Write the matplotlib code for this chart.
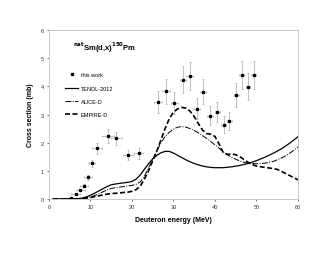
import matplotlib
matplotlib.use('Agg')
import matplotlib.pyplot as plt

# measured points (this work)
exp_e = [5.3, 6.5, 7.6, 8.5, 9.5, 10.3, 11.7, 14.2, 16.2, 19.1, 21.6,
         26.3, 28.2, 30.2, 32.3, 33.9, 35.7, 37.2, 38.9, 40.6, 42.1, 43.5,
         45.1, 46.4, 47.9, 49.3]
exp_xs = [0.04, 0.17, 0.31, 0.47, 0.77, 1.27, 1.80, 2.25, 2.15, 1.55, 1.62,
          3.44, 3.82, 3.42, 4.24, 4.36, 3.21, 3.81, 2.95, 3.10, 2.63, 2.76,
          3.68, 4.39, 3.99, 4.41]
exp_de = [1.2, 1.1, 1.1, 1.0, 1.0, 0.9, 1.2, 1.4, 1.3, 1.2, 1.1,
          0.9, 0.9, 0.8, 0.8, 0.8, 0.7, 0.7, 0.7, 0.6, 0.6, 0.6,
          0.6, 0.6, 0.5, 0.5]
exp_dxs = [0.02, 0.03, 0.04, 0.05, 0.08, 0.13, 0.2, 0.25, 0.24, 0.18, 0.19,
           0.4, 0.44, 0.39, 0.48, 0.5, 0.37, 0.44, 0.34, 0.36, 0.3, 0.32,
           0.43, 0.5, 0.47, 0.5]

# TENDL-2012
tendl_e = [1, 5, 7, 8, 9, 10, 11, 12, 13, 14, 15, 16, 17, 18, 19, 20, 21, 22,
           23, 24, 25, 26, 27, 28, 29, 30, 31, 32, 33, 34, 35, 36, 37, 38, 39,
           40, 42, 44, 46, 48, 50, 52, 54, 56, 58, 60]
tendl_xs = [0, 0, 0.01, 0.03, 0.07, 0.13, 0.2, 0.28, 0.36, 0.44, 0.5, 0.53,
            0.55, 0.57, 0.59, 0.62, 0.7, 0.85, 1.05, 1.25, 1.42, 1.55, 1.64,
            1.69, 1.69, 1.63, 1.55, 1.47, 1.39, 1.32, 1.26, 1.21, 1.17, 1.14,
            1.12, 1.11, 1.11, 1.14, 1.19, 1.26, 1.36, 1.48, 1.62, 1.78, 1.98,
            2.21]

# ALICE-D
alice_e = [1, 6, 8, 9, 10, 11, 12, 13, 14, 15, 16, 17, 18, 19, 20, 21, 22, 23,
           24, 25, 26, 27, 28, 29, 30, 31, 32, 33, 34, 35, 36, 37, 38, 39, 40,
           41, 42, 43, 44, 45, 46, 47, 48, 50, 52, 54, 56, 58, 60]
alice_xs = [0, 0, 0.01, 0.03, 0.07, 0.12, 0.18, 0.25, 0.32, 0.37, 0.4, 0.42,
            0.44, 0.46, 0.48, 0.52, 0.6, 0.8, 1.1, 1.4, 1.7, 2.0, 2.22, 2.37,
            2.48, 2.55, 2.57, 2.55, 2.5, 2.43, 2.35, 2.25, 2.15, 2.04, 1.92,
            1.8, 1.68, 1.57, 1.48, 1.41, 1.35, 1.3, 1.27, 1.25, 1.27, 1.33,
            1.45, 1.62, 1.85]

# EMPIRE-D
empire_e = [1, 7, 8, 9, 10, 11, 12, 13, 14, 15, 16, 17, 18, 19, 20, 21, 22,
            23, 24, 25, 26, 27, 28, 29, 30, 31, 32, 33, 34, 35, 36, 37, 38, 39,
            40, 41, 42, 43, 44, 45, 46, 47, 48, 49, 50, 52, 54, 55, 56, 58, 60]
empire_xs = [0, 0, 0.01, 0.03, 0.05, 0.08, 0.11, 0.14, 0.17, 0.19, 0.2, 0.21,
             0.23, 0.24, 0.27, 0.33, 0.45, 0.7, 1.0, 1.35, 1.7, 2.1, 2.5, 2.85,
             3.08, 3.2, 3.25, 3.23, 3.12, 2.93, 2.68, 2.45, 2.32, 2.3, 2.22,
             1.95, 1.65, 1.58, 1.6, 1.57, 1.5, 1.4, 1.3, 1.22, 1.17, 1.12, 1.08,
             1.05, 0.98, 0.83, 0.68]

plt.rcParams['font.family'] = ['Liberation Sans', 'DejaVu Sans']

fig = plt.figure(figsize=(3.3, 2.55), dpi=100)
ax = fig.add_axes([0.148, 0.216, 0.755, 0.662])

ax.errorbar(exp_e, exp_xs, xerr=exp_de, yerr=exp_dxs, fmt='none',
            ecolor='#a8a8a8', elinewidth=0.5, capsize=1.0, capthick=0.5)
ax.plot(exp_e, exp_xs, 's', color='black', markersize=1.4, label='this work')
ax.plot(tendl_e, tendl_xs, '-', color='black', linewidth=0.9, label='TENDL-2012')
ax.plot(alice_e, alice_xs, color='black', linewidth=0.7,
        dashes=[6, 1.5, 1, 1.5], label='ALICE-D')
ax.plot(empire_e, empire_xs, '--', color='black', linewidth=1.2,
        dashes=[3, 1.5], label='EMPIRE-D')

ax.set_xlim(0, 60)
ax.set_ylim(0, 6)
ax.set_xticks(range(0, 61, 10))
ax.set_yticks(range(0, 7))
ax.tick_params(labelsize=4, length=1.5, width=0.5, colors='#333333', pad=2)
for s in ax.spines.values():
    s.set_color('#c8c8c8')
    s.set_linewidth(0.7)

ax.set_xlabel('Deuteron energy (MeV)', fontsize=5, fontweight='bold', labelpad=5)
ax.set_ylabel('Cross section (mb)', fontsize=5, fontweight='bold', labelpad=5)

ax.text(0.095, 0.9, r'$^{\mathbf{nat}}$Sm(d,x)$^{\mathbf{150}}$Pm',
        transform=ax.transAxes, fontsize=5.5, fontweight='bold', va='center')

ax.legend(loc='upper left', bbox_to_anchor=(0.045, 0.78), frameon=False,
          fontsize=4, labelspacing=1.5, handlelength=2.4, handletextpad=0.4)

fig.savefig('out.png', dpi=100)
